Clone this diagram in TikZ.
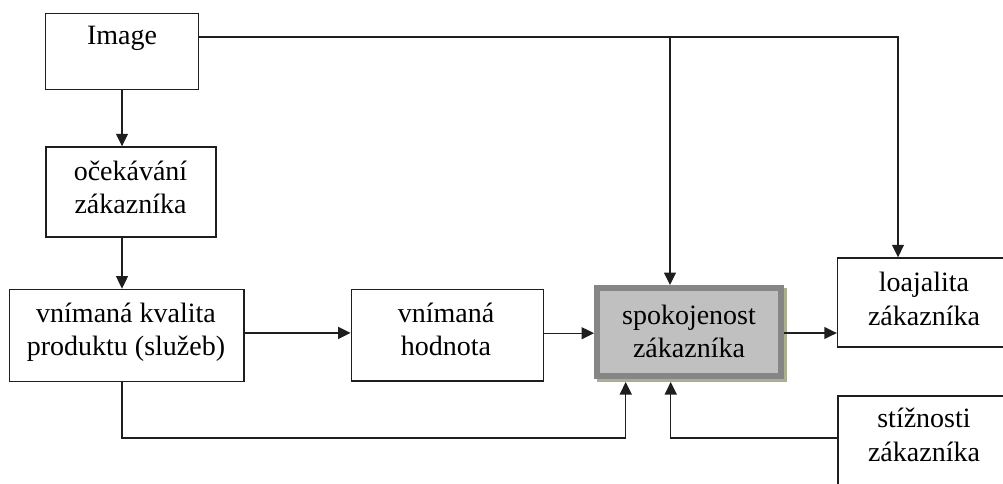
\documentclass[tikz,border=0pt]{standalone}
\usepackage{fontspec}
\setmainfont{Liberation Serif}
\usetikzlibrary{arrows.meta}
\definecolor{linec}{RGB}{30,30,30}
\definecolor{spokfill}{RGB}{192,192,192}
\definecolor{spokedge}{RGB}{134,134,134}
\definecolor{spokshadow}{RGB}{168,176,143}
\begin{document}
\begin{tikzpicture}[x=1pt,y=-1pt,
  box/.style={draw=linec, line width=1.4pt, rectangle, inner sep=0pt, fill=white},
  lbl/.style={anchor=base, inner sep=0pt, font=\fontsize{28}{33}\selectfont},
  arr/.style={draw=linec, line width=1.4pt, -{Triangle[length=12.5pt,width=12pt]}}]
\useasboundingbox (0,0) rectangle (1003,484);
\clip (0,0) rectangle (1003,484);

% boxes
\node[box, minimum width=153pt, minimum height=76pt] (img) at (122,51.3) {};
\node[box, minimum width=170pt, minimum height=90pt] (oce) at (131,192) {};
\node[box, minimum width=234.7pt, minimum height=92.2pt] (kval) at (126.7,335.4) {};
\node[box, minimum width=192pt, minimum height=91.7pt] (hod) at (447.3,335.2) {};
\node[box, minimum width=173pt, minimum height=89pt] (loaj) at (924,302.5) {};
\node[box, minimum width=173pt, minimum height=124pt] (stiz) at (924.5,458) {};

% highlighted box with its shadow
\node[fill=spokshadow, minimum width=190pt, minimum height=94pt, inner sep=0pt] (spokSh) at (692,335) {};
\node[draw=spokedge, fill=spokfill, line width=6pt, minimum width=184pt, minimum height=88pt, inner sep=0pt] (spok) at (689,332) {};

% labels
\node[lbl] (imgT) at (122,45) {Image};
\node[lbl] (oceA) at (130.5,180) {očekávání};
\node[lbl] (oceB) at (130.5,213) {zákazníka};
\node[lbl] (kvalA) at (126,322) {vnímaná kvalita};
\node[lbl] (kvalB) at (126,355) {produktu (služeb)};
\node[lbl] (hodA) at (446,322) {vnímaná};
\node[lbl] (hodB) at (446,355) {hodnota};
\node[lbl] (spokA) at (689,324.5) {spokojenost};
\node[lbl] (spokB) at (689,357.5) {zákazníka};
\node[lbl] (loajA) at (924,291.5) {loajalita};
\node[lbl] (loajB) at (924,325) {zákazníka};
\node[lbl] (stizA) at (924,427) {stížnosti};
\node[lbl] (stizB) at (924,461) {zákazníka};

% connectors
\coordinate (tap) at (670,37);
\coordinate (lowL) at (122,438);
\draw[arr] ([yshift=14.3pt]img.east) -| ([xshift=-26pt]loaj.north);
\draw[arr] (tap) -- (tap |- spok.north);
\draw[arr] (img.south) -- (img.south |- oce.north);
\draw[arr] (img.south |- oce.south) -- (img.south |- kval.north);
\draw[arr] ([yshift=2.5pt]kval.east) -- ([yshift=2.5pt]kval.east -| hod.west);
\draw[arr] ([yshift=2pt]hod.east) -- ([yshift=2pt]hod.east -| spok.west);
\draw[arr] ([yshift=-1pt]spok.east) -- ([yshift=-1pt]spok.east -| loaj.west);
\draw[arr] (img.south |- kval.south) -- (lowL) -| ([xshift=-63.3pt,yshift=-3pt]spok.south);
\draw[arr] ([yshift=20pt]stiz.west) -| ([xshift=-18.3pt,yshift=-3pt]spok.south);
\end{tikzpicture}
\end{document}
